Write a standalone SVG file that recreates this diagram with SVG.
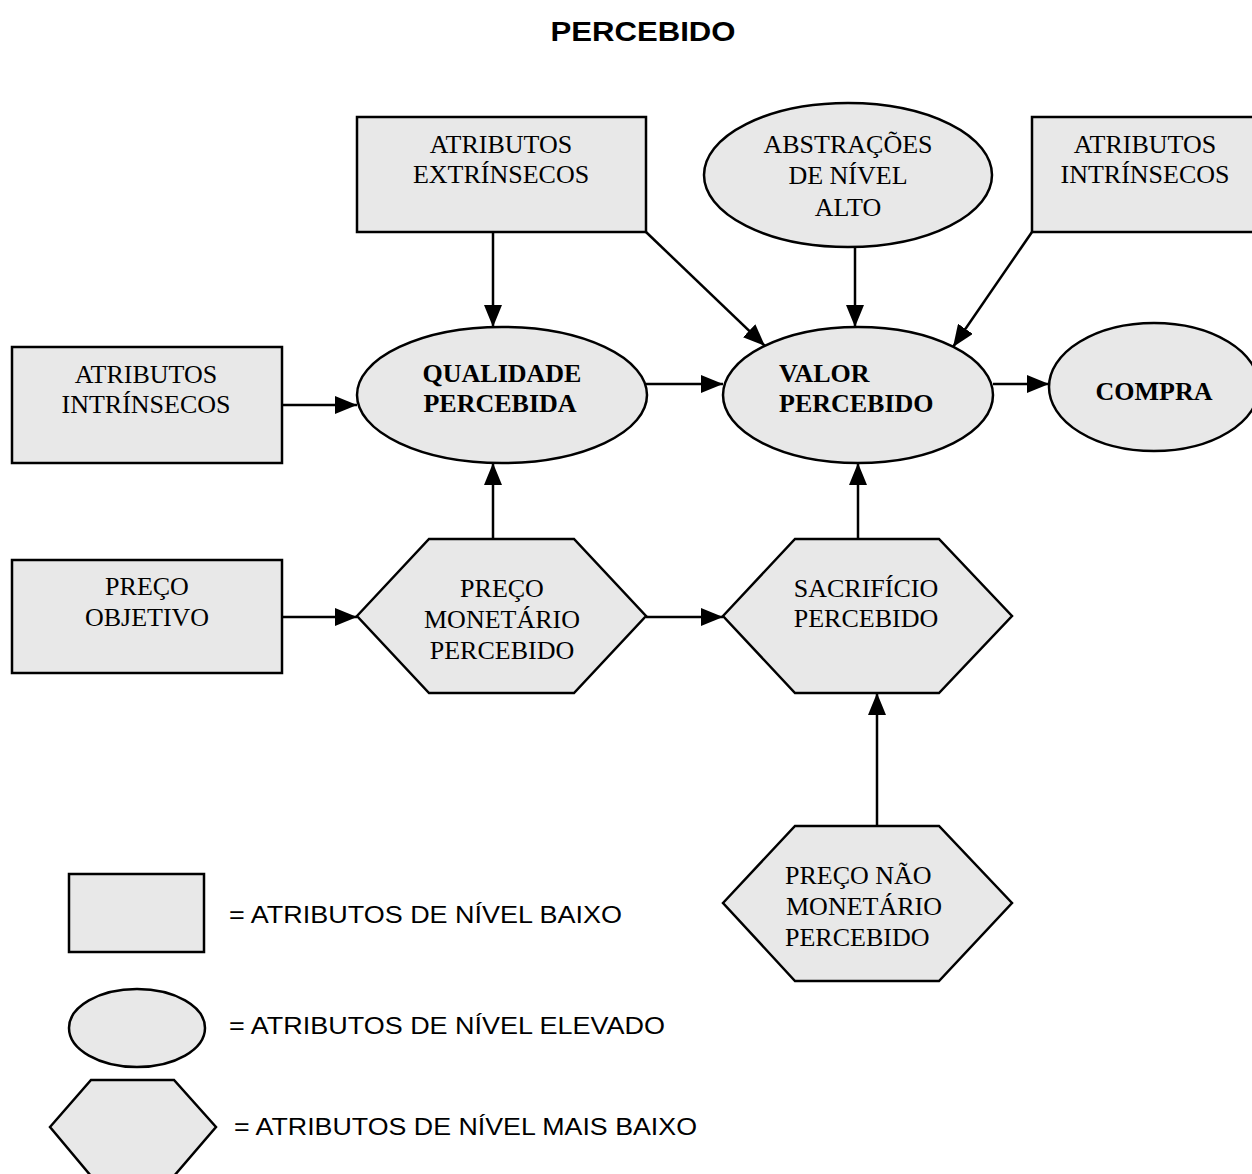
<svg xmlns="http://www.w3.org/2000/svg" width="1252" height="1174" viewBox="0 0 1252 1174">
  <style>
    .shape { fill: #e8e8e8; stroke: #000; stroke-width: 2.5; }
    .edge { stroke: #000; stroke-width: 2.5; fill: none; marker-end: url(#arrow); }
    .lbl { font-family: "Liberation Serif", "Times New Roman", serif; font-size: 26px; fill: #000; }
    .bold { font-weight: bold; }
    .mid { text-anchor: middle; }
    .legend { font-family: "Liberation Sans", Arial, sans-serif; font-size: 24px; fill: #000; }
    .title { font-family: "Liberation Sans", Arial, sans-serif; font-size: 27px; font-weight: bold; fill: #000; }
  </style>
  <defs>
    <marker id="arrow" markerWidth="22" markerHeight="18" refX="22" refY="9" orient="auto" markerUnits="userSpaceOnUse">
      <path d="M0,0 L22,9 L0,18 Z" fill="#000"/>
    </marker>
  </defs>

  <rect width="1252" height="1174" fill="#fff"/>

  <text class="title mid" x="643" y="41" textLength="185" lengthAdjust="spacingAndGlyphs">PERCEBIDO</text>

  <!-- connectors -->
  <g id="connectors">
    <line class="edge" x1="493" y1="232" x2="493" y2="327"/>
    <line class="edge" x1="646" y1="232" x2="765" y2="346"/>
    <line class="edge" x1="855" y1="247" x2="855" y2="327"/>
    <line class="edge" x1="1032" y1="232" x2="953" y2="347"/>
    <line class="edge" x1="282" y1="405" x2="357" y2="405"/>
    <line class="edge" x1="646" y1="384" x2="723" y2="384"/>
    <line class="edge" x1="993" y1="384" x2="1049" y2="384"/>
    <line class="edge" x1="493" y1="539" x2="493" y2="463"/>
    <line class="edge" x1="858" y1="539" x2="858" y2="463"/>
    <line class="edge" x1="282" y1="617" x2="357" y2="617"/>
    <line class="edge" x1="646" y1="617" x2="723" y2="617"/>
    <line class="edge" x1="877" y1="826" x2="877" y2="693"/>
  </g>

  <g id="atributos-extrinsecos">
    <rect class="shape" x="357" y="117" width="289" height="115"/>
    <text class="lbl mid" x="501" y="153">ATRIBUTOS</text>
    <text class="lbl mid" x="501" y="183">EXTRÍNSECOS</text>
  </g>

  <g id="abstracoes">
    <ellipse class="shape" cx="848" cy="175" rx="144" ry="72"/>
    <text class="lbl mid" x="848" y="153">ABSTRAÇÕES</text>
    <text class="lbl mid" x="848" y="184">DE NÍVEL</text>
    <text class="lbl mid" x="848" y="216">ALTO</text>
  </g>

  <g id="atributos-intrinsecos-topo">
    <rect class="shape" x="1032" y="117" width="226" height="115"/>
    <text class="lbl mid" x="1145" y="153">ATRIBUTOS</text>
    <text class="lbl mid" x="1145" y="183">INTRÍNSECOS</text>
  </g>

  <g id="atributos-intrinsecos">
    <rect class="shape" x="12" y="347" width="270" height="116"/>
    <text class="lbl mid" x="146" y="383">ATRIBUTOS</text>
    <text class="lbl mid" x="146" y="413">INTRÍNSECOS</text>
  </g>

  <g id="qualidade">
    <ellipse class="shape" cx="502" cy="395" rx="145" ry="68"/>
    <text class="lbl bold mid" x="502" y="382">QUALIDADE</text>
    <text class="lbl bold mid" x="500" y="412">PERCEBIDA</text>
  </g>

  <g id="valor">
    <ellipse class="shape" cx="858" cy="395" rx="135" ry="68"/>
    <text class="lbl bold" x="779" y="382">VALOR</text>
    <text class="lbl bold" x="779" y="412">PERCEBIDO</text>
  </g>

  <g id="compra">
    <ellipse class="shape" cx="1154" cy="387" rx="105" ry="64"/>
    <text class="lbl bold mid" x="1154" y="400">COMPRA</text>
  </g>

  <g id="preco-objetivo">
    <rect class="shape" x="12" y="560" width="270" height="113"/>
    <text class="lbl mid" x="147" y="595">PREÇO</text>
    <text class="lbl mid" x="147" y="626">OBJETIVO</text>
  </g>

  <g id="preco-monetario">
    <polygon class="shape" points="357,616 429,539 574,539 646,616 574,693 429,693"/>
    <text class="lbl mid" x="502" y="597">PREÇO</text>
    <text class="lbl mid" x="502" y="628">MONETÁRIO</text>
    <text class="lbl mid" x="502" y="659">PERCEBIDO</text>
  </g>

  <g id="sacrificio">
    <polygon class="shape" points="723,616 795,539 939,539 1012,616 939,693 795,693"/>
    <text class="lbl mid" x="866" y="597">SACRIFÍCIO</text>
    <text class="lbl mid" x="866" y="627">PERCEBIDO</text>
  </g>

  <g id="preco-nao-monetario">
    <polygon class="shape" points="723,903 795,826 939,826 1012,903 939,981 795,981"/>
    <text class="lbl" x="785" y="884">PREÇO NÃO</text>
    <text class="lbl" x="786" y="915">MONETÁRIO</text>
    <text class="lbl" x="785" y="946">PERCEBIDO</text>
  </g>

  <g id="legenda">
    <rect class="shape" x="69" y="874" width="135" height="78"/>
    <text class="legend" x="229" y="923" textLength="393" lengthAdjust="spacingAndGlyphs">= ATRIBUTOS DE NÍVEL BAIXO</text>
    <ellipse class="shape" cx="137" cy="1028" rx="68" ry="39"/>
    <text class="legend" x="229" y="1034" textLength="436" lengthAdjust="spacingAndGlyphs">= ATRIBUTOS DE NÍVEL ELEVADO</text>
    <polygon class="shape" points="50,1127 91,1080 174,1080 216,1127 174,1176 91,1176"/>
    <text class="legend" x="234" y="1135" textLength="463" lengthAdjust="spacingAndGlyphs">= ATRIBUTOS DE NÍVEL MAIS BAIXO</text>
  </g>
</svg>
